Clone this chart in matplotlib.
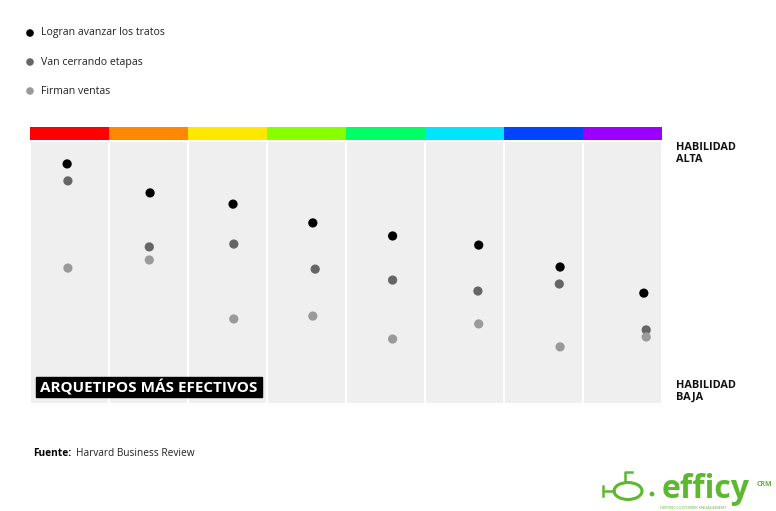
import matplotlib.pyplot as plt
from matplotlib.patches import Ellipse, Rectangle

# Datos (posición horizontal dentro de cada arquetipo y nivel de habilidad 0-100)
arquetipos = ["Rojo", "Naranja", "Amarillo", "Lima", "Verde", "Cian", "Azul", "Violeta"]
colores_arquetipo = ["#ff0000", "#ff8800", "#ffe800", "#88ff00",
                     "#00ff66", "#00e5ff", "#0044ff", "#9900ff"]

x_avanzar = [0.47, 1.52, 2.57, 3.58, 4.59, 5.68, 6.71, 7.77]
avanzar = [91.6, 80.5, 76.2, 69.0, 64.0, 60.5, 52.1, 42.1]

x_cerrando = [0.48, 1.51, 2.58, 3.61, 4.59, 5.67, 6.70, 7.80]
cerrando = [85.1, 59.8, 60.9, 51.3, 47.1, 42.9, 45.6, 28.0]

x_firman = [0.48, 1.51, 2.58, 3.58, 4.59, 5.68, 6.71, 7.80]
firman = [51.7, 54.8, 32.2, 33.3, 24.5, 30.3, 21.5, 25.3]

series = [
    ("Logran avanzar los tratos", x_avanzar, avanzar, "#000000"),
    ("Van cerrando etapas", x_cerrando, cerrando, "#666666"),
    ("Firman ventas", x_firman, firman, "#9a9a9a"),
]

plt.rcParams['font.family'] = ['Open Sans', 'DejaVu Sans']

W, H = 776, 511
fig = plt.figure(figsize=(W / 100, H / 100), dpi=100)
fig.patch.set_facecolor("white")

# ejes del gráfico: panel de 142 a 403 px, barra de color de 127 a 140
ax = fig.add_axes([30 / W, (H - 403) / H, 632 / W, 276 / H])
ax.set_xlim(0, len(arquetipos))
ax.set_ylim(0, 276 / 261 * 100)
ax.axis("off")

n = len(arquetipos)
ax.bar([i + 0.5 for i in range(n)], [100] * n, width=0.975, color="#efeff0", zorder=1)
ax.bar([i + 0.5 for i in range(n)], [4.95] * n, bottom=100.8, width=1.0,
       color=colores_arquetipo, zorder=1)

for nombre, xs, ys, c in series:
    ax.scatter(xs, ys, s=44, color=c, edgecolors="none", zorder=3)

# capa de anotaciones en píxeles (origen arriba a la izquierda), por encima del gráfico
ov = fig.add_axes([0, 0, 1, 1])
ov.set_xlim(0, W)
ov.set_ylim(H, 0)
ov.axis("off")
ov.set_zorder(5)

# leyenda manual
for k, (nombre, xs, ys, c) in enumerate(series):
    yy = 33 + 29 * k
    ov.scatter([30], [yy], s=30, color=c, edgecolors="none")
    ov.text(41, yy, nombre, fontsize=7.6, va="center", ha="left", color="#222222")

# etiquetas de habilidad
for y0, txt in [(147, "HABILIDAD"), (159, "ALTA"), (385, "HABILIDAD"), (397, "BAJA")]:
    ov.text(676, y0, txt, fontsize=7.8, fontweight="bold", va="center", ha="left",
            color="#111111")

ov.add_patch(Rectangle((36, 377), 226, 20, color="black", zorder=4))
ov.text(40, 387.5, "ARQUETIPOS MÁS EFECTIVOS", fontsize=11, fontweight="bold",
        color="white", va="center", ha="left", zorder=5)

ov.text(33, 453, "Fuente:", fontsize=7.3, fontweight="bold", va="center", ha="left")
ov.text(76, 453, "Harvard Business Review", fontsize=7.3, va="center", ha="left",
        color="#222222")

# logo efficy
verde = "#5cb82e"
ov.text(662, 490, "efficy", fontsize=23, fontweight="bold", color=verde,
        va="center", ha="left")
ov.text(757, 484, "CRM", fontsize=5, fontweight="bold", color=verde, va="center", ha="left")
ov.text(660, 508, "DEEPER CUSTOMER ENGAGEMENT", fontsize=3, color=verde,
        va="center", ha="left")
ov.scatter([652], [494], s=12, color=verde, edgecolors="none")
ov.add_patch(Ellipse((628, 491), 28, 17, fill=False, edgecolor=verde, linewidth=2.2))
ov.plot([625, 625, 632], [482, 472, 472], color=verde, linewidth=1.8)
ov.plot([605, 614], [491, 491], color=verde, linewidth=1.8)
ov.plot([603, 603], [486, 496], color=verde, linewidth=1.8)

fig.savefig("out.png", dpi=100, facecolor="white")
